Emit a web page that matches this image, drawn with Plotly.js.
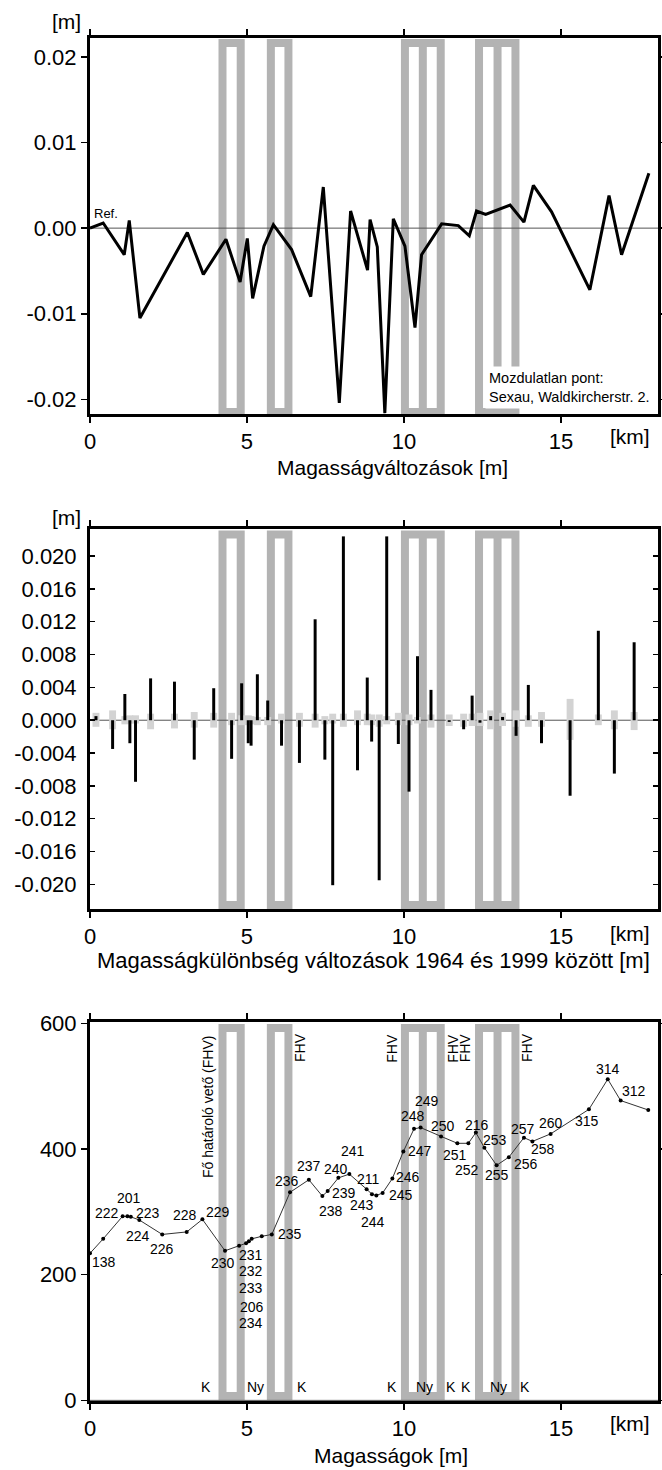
<!DOCTYPE html>
<html>
<head>
<meta charset="utf-8">
<script src="https://cdn.plot.ly/plotly-3.0.1.min.js"></script>
<style>html,body{margin:0;padding:0;background:#fff;}#chart{width:662px;height:1470px;}</style>
</head>
<body>
<div id="chart"></div>
<script>
// ---------- DATA ----------
// Panel 1: height changes [m] along the profile [km]
const km1 = [0, 0.42, 1.09, 1.25, 1.59, 3.10, 3.61, 4.33, 4.78, 5.01, 5.18, 5.54, 5.84, 6.42, 7.03, 7.43, 7.94, 8.30, 8.84, 8.92, 9.15, 9.39, 9.66, 10.03, 10.35, 10.56, 11.20, 11.73, 12.08, 12.31, 12.60, 13.38, 13.82, 14.12, 14.70, 15.92, 16.53, 16.93, 17.80];
const dh1 = [0, 0.0006, -0.0031, 0.0009, -0.0105, -0.0005, -0.0054, -0.0013, -0.0063, -0.0012, -0.0082, -0.0021, 0.0004, -0.0025, -0.0080, 0.0048, -0.0204, 0.0020, -0.0049, 0.0010, -0.0022, -0.0216, 0.0011, -0.0021, -0.0116, -0.0031, 0.0005, 0.0003, -0.0009, 0.0020, 0.0016, 0.0027, 0.0007, 0.0050, 0.0019, -0.0072, 0.0038, -0.0031, 0.0064];

// Panel 2: height difference changes 1964-1999 [m]
const km2 = [0.19, 0.72, 1.11, 1.27, 1.45, 1.93, 2.69, 3.32, 3.94, 4.51, 4.83, 5.04, 5.13, 5.33, 5.66, 6.10, 6.67, 7.17, 7.48, 7.73, 8.07, 8.52, 8.83, 8.97, 9.21, 9.45, 9.82, 10.16, 10.43, 10.86, 11.44, 11.90, 12.17, 12.42, 12.76, 13.14, 13.57, 13.96, 14.38, 15.29, 16.19, 16.70, 17.33];
const dd2 = [0.0005, -0.0035, 0.0032, -0.0028, -0.0075, 0.0051, 0.0047, -0.0048, 0.0039, -0.0047, 0.0045, -0.0028, -0.0031, 0.0056, 0.0024, -0.0031, -0.0052, 0.0123, -0.0048, -0.0201, 0.0224, -0.0061, 0.0052, -0.0026, -0.0195, 0.0224, -0.0029, -0.0087, 0.0078, 0.0037, -0.0002, -0.0011, 0.0030, -0.0003, 0.0005, 0.0004, -0.0019, 0.0043, -0.0028, -0.0092, 0.0109, -0.0065, 0.0095];
const errUp2 = [0.0009, 0.0012, 0.0005, 0.0006, 0.0006, 0.0008, 0.0008, 0.0010, 0.0009, 0.0009, 0.0006, 0.0006, 0.0005, 0.0004, 0.0004, 0.0008, 0.0009, 0.0008, 0.0005, 0.0008, 0.0008, 0.0012, 0.0008, 0.0007, 0.0007, 0.0005, 0.0009, 0.0007, 0.0004, 0.0007, 0.0007, 0.0008, 0.0008, 0.0009, 0.0012, 0.0009, 0.0012, 0.0006, 0.0010, 0.0026, 0.0007, 0.0012, 0.0010];
const errDn2 = [0.0008, 0.0011, 0.0005, 0.0004, 0.0004, 0.0011, 0.0010, 0.0009, 0.0009, 0.0006, 0.0006, 0.0006, 0.0005, 0.0006, 0.0006, 0.0004, 0.0008, 0.0009, 0.0005, 0.0004, 0.0008, 0.0006, 0.0006, 0.0006, 0.0008, 0.0005, 0.0006, 0.0006, 0.0004, 0.0009, 0.0007, 0.0008, 0.0007, 0.0007, 0.0011, 0.0007, 0.0008, 0.0008, 0.0008, 0.0024, 0.0006, 0.0011, 0.0012];

// Panel 3: heights [m] with point numbers
const km3 = [0.0, 0.42, 1.04, 1.19, 1.30, 1.57, 2.30, 3.08, 3.58, 4.30, 4.75, 4.97, 5.06, 5.15, 5.47, 5.79, 6.37, 6.97, 7.40, 7.57, 7.91, 8.26, 8.81, 8.98, 9.12, 9.32, 9.63, 9.98, 10.32, 10.53, 11.18, 11.70, 12.05, 12.29, 12.56, 12.95, 13.34, 13.82, 14.09, 14.67, 15.89, 16.49, 16.90, 17.78];
const h3 = [234, 257, 293, 293, 292, 287, 264, 268, 288, 238, 246, 250, 253, 257, 261, 264, 331, 351, 325, 333, 354, 360, 336, 328, 326, 330, 353, 396, 432, 434, 420, 409, 409, 426, 402, 374, 387, 418, 412, 424, 463, 511, 477, 462];
const pts3 = ['138', '', '222', '201', '223', '224', '226', '228', '229', '230', '231', '232', '233', '206', '234', '235', '236', '237', '238', '239', '240', '241', '211', '243', '244', '245', '246', '247', '248', '249', '250', '251', '252', '216', '253', '255', '256', '257', '258', '260', '315', '314', '312', ''];

// Fault zones [km]: single and double boxes
const faultSingle = [[4.22, 4.80], [5.76, 6.32]];
const faultDouble = [[10.03, 10.60, 11.17], [12.39, 12.98, 13.55]];

// Tick labels
const yTicks1 = [-0.02, -0.01, 0, 0.01, 0.02];
const yText1 = ['-0.02', '-0.01', '0.00', '0.01', '0.02'];
const yTicks2 = [-0.020, -0.016, -0.012, -0.008, -0.004, 0, 0.004, 0.008, 0.012, 0.016, 0.020];
const yText2 = ['-0.020', '-0.016', '-0.012', '-0.008', '-0.004', '0.000', '0.004', '0.008', '0.012', '0.016', '0.020'];
const yTicks3 = [0, 200, 400, 600];
const xTicks = [0, 5, 10, 15];

// ---------- LAYOUT HELPERS ----------
const FONT = 'Liberation Sans, Arial, sans-serif';
const PT = 38, PB = 1401, PL = 90, PR = 658;
const py = p => (PB - p) / (PB - PT);
const px = x => (x - PL) / (PR - PL);

const GREY = '#b3b3b3';
function faultShapes(xa, ya, y0, y1) {
  const s = [];
  const base = {xref: xa, yref: ya + ' domain', layer: 'below', line: {color: GREY, width: 8}};
  faultSingle.forEach(f => s.push(Object.assign({type: 'rect', x0: f[0], x1: f[1], y0: y0, y1: y1, fillcolor: 'rgba(0,0,0,0)'}, base)));
  faultDouble.forEach(f => {
    s.push(Object.assign({type: 'rect', x0: f[0], x1: f[2], y0: y0, y1: y1, fillcolor: 'rgba(0,0,0,0)'}, base));
    s.push(Object.assign({type: 'line', x0: f[1], x1: f[1], y0: y0, y1: y1}, base));
  });
  s.push({type: 'line', xref: xa + ' domain', x0: 0, x1: 1, yref: ya, y0: 0, y1: 0, layer: 'below', line: {color: '#555', width: 1}});
  return s;
}

const axisCommon = {showline: true, linewidth: 3, linecolor: 'black', mirror: 'ticks', showgrid: false, zeroline: false,
  tickfont: {family: FONT, size: 22, color: 'black'}, tickcolor: 'black', tickwidth: 1.5, ticklen: 6, ticks: 'outside', fixedrange: true};

function xAxis(anchor) {
  return Object.assign({}, axisCommon, {anchor: anchor, domain: [0, 1], range: [0, 18.09], tickmode: 'array', tickvals: xTicks});
}

const layout = {
  width: 662, height: 1470,
  margin: {l: PL, r: 662 - PR, t: PT, b: 1470 - PB},
  paper_bgcolor: 'white', plot_bgcolor: 'white',
  showlegend: false, barmode: 'overlay',
  font: {family: FONT, color: 'black'},
  xaxis: xAxis('y'),
  xaxis2: xAxis('y2'),
  xaxis3: xAxis('y3'),
  yaxis: Object.assign({}, axisCommon, {anchor: 'x', domain: [py(414), 1], range: [-0.0217, 0.0222], tickmode: 'array', tickvals: yTicks1, ticktext: yText1}),
  yaxis2: Object.assign({}, axisCommon, {anchor: 'x2', domain: [py(909), py(529)], range: [-0.0230, 0.0233], tickmode: 'array', tickvals: yTicks2, ticktext: yText2, ticks: 'inside', ticklen: 5, ticklabelstandoff: 6}),
  yaxis3: Object.assign({}, axisCommon, {anchor: 'x3', domain: [0, py(1022)], range: [-1, 602], tickmode: 'array', tickvals: yTicks3}),
  shapes: [].concat(
    faultShapes('x', 'y', 0.005, 0.987),
    faultShapes('x2', 'y2', 0.0105, 0.9855),
    faultShapes('x3', 'y3', 0.013, 0.984)
  ),
  annotations: []
};

const A = layout.annotations;
function paperText(t, x, y, size, extra) {
  A.push(Object.assign({text: t, xref: 'paper', yref: 'paper', x: px(x), y: py(y), showarrow: false,
    xanchor: 'center', yanchor: 'middle', font: {family: FONT, size: size, color: 'black'}}, extra || {}));
}
// units and axis titles
paperText('[m]', 66, 21, 21);
paperText('[km]', 630, 436, 21);
paperText('Magasságváltozások [m]', 392, 467, 21);
paperText('[m]', 66, 517, 21);
paperText('[km]', 630, 933, 21);
paperText('Magasságkülönbség változások 1964 és 1999 között [m]', 373, 960, 22);
paperText('[km]', 630, 1423, 21);
paperText('Magasságok [m]', 391, 1455, 21);

// Panel 1 notes
A.push({text: 'Ref.', xref: 'x', yref: 'y', x: 0.52, y: 0.0017, showarrow: false, xanchor: 'center', yanchor: 'middle',
  font: {family: FONT, size: 13, color: 'black'}});
paperText('Mozdulatlan pont:<br>Sexau, Waldkircherstr. 2.', 485, 366, 14.5,
  {xanchor: 'left', yanchor: 'top', align: 'left', bgcolor: 'white', borderpad: 3});

// Panel 3 fault labels
paperText('Fő határoló vető (FHV)', 208, 1107, 14, {textangle: -90});
[300, 391.7, 452.8, 465.3, 527].forEach(x => paperText('FHV', x, 1048, 14, {textangle: -90}));
const kny = [['K', 206], ['Ny', 255.7], ['K', 302], ['K', 392.4], ['Ny', 424], ['K', 450.6], ['K', 466], ['Ny', 498], ['K', 525]];
kny.forEach(k => paperText(k[0], k[1], 1386.7, 14));

// Panel 3 point-number labels (pixel offsets from each point: dx right, dy down)
const labelOffsets = [[14, 9], null, [-16, -3], [2, -18], [17, -4], [-1, 16], [0, 15], [-2, -17], [16, -7], [-2, 12],
  [12, 9], [5, 28], [2, 47], [0, 68], [-11, 87], [18, 0], [-3, -11], [0, -14], [9, 15], [16, 2],
  [-2, -9], [4, -23], [2, -10], [-10, 11], [-3, 27], [18, 2], [16, -2], [17, 0], [-1, -13], [6, -27],
  [2, -10], [-2, 12], [-1, 27], [1, -8], [11, -8], [0, 10], [17, 7], [-1, -9], [11, 8], [0, -11],
  [-2, 12], [0, -10], [13, -10], null];
pts3.forEach((t, i) => {
  if (!t || !labelOffsets[i]) return;
  A.push({text: t, xref: 'x3', yref: 'y3', x: km3[i], y: h3[i], showarrow: false, xanchor: 'center', yanchor: 'middle',
    xshift: labelOffsets[i][0], yshift: -labelOffsets[i][1], font: {family: FONT, size: 14, color: 'black'}});
});

// ---------- TRACES ----------
const traces = [
  {type: 'scatter', mode: 'lines', x: km1, y: dh1, xaxis: 'x', yaxis: 'y',
    line: {color: 'black', width: 3}, hoverinfo: 'skip'},
  {type: 'bar', x: km2, y: errUp2.map((u, i) => u + errDn2[i]), base: errDn2.map(d => -d), xaxis: 'x2', yaxis: 'y2',
    width: 0.22, marker: {color: '#d3d3d3', line: {width: 0}}, hoverinfo: 'skip'},
  {type: 'bar', x: km2, y: dd2, xaxis: 'x2', yaxis: 'y2',
    width: 0.095, marker: {color: 'black', line: {width: 0}}, hoverinfo: 'skip'},
  {type: 'scatter', mode: 'lines+markers', x: km3, y: h3, xaxis: 'x3', yaxis: 'y3',
    line: {color: '#333', width: 1}, marker: {color: 'black', size: 4}, hoverinfo: 'skip'}
];

Plotly.newPlot('chart', traces, layout, {displayModeBar: false, staticPlot: true});
</script>
</body>
</html>
